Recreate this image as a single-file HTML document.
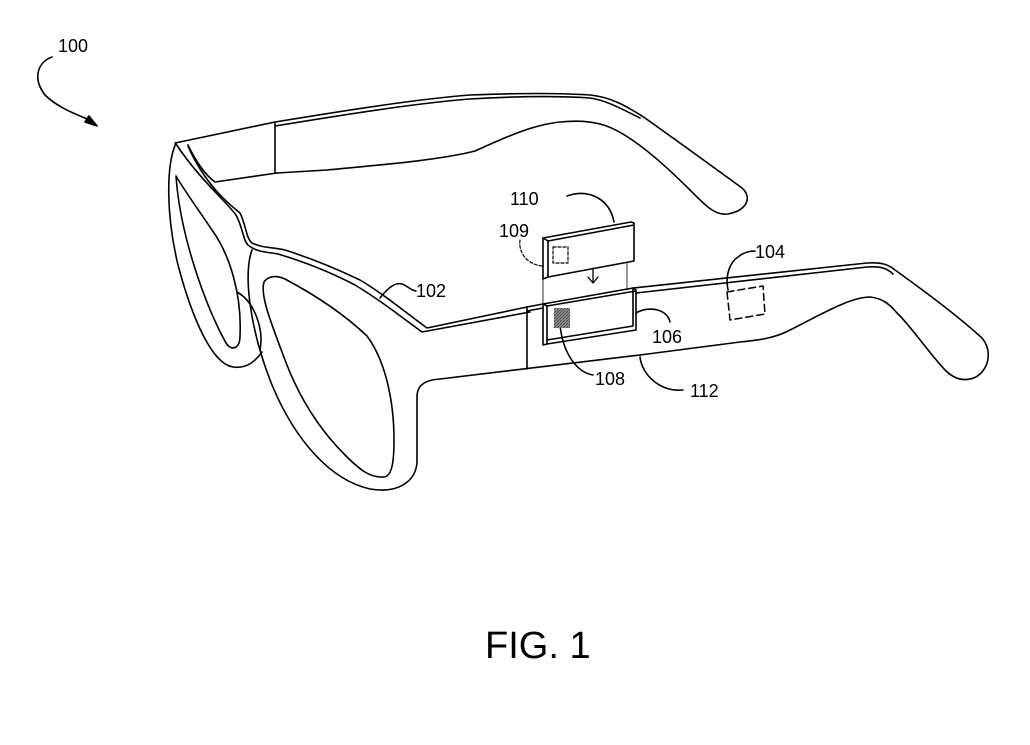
<!DOCTYPE html>
<html><head><meta charset="utf-8"><style>
html,body{margin:0;padding:0;background:#fff}
svg{display:block}
text{font-family:"Liberation Sans",sans-serif;fill:#000}
</style></head><body>
<svg width="1030" height="745" viewBox="0 0 1030 745" xmlns="http://www.w3.org/2000/svg">
<defs>
<pattern id="h" width="3" height="3" patternUnits="userSpaceOnUse">
<rect width="3" height="3" fill="#aaa"/>
<path d="M0,3 L3,0" stroke="#444" stroke-width="1"/>
<path d="M0,0 L3,3" stroke="#666" stroke-width="0.6"/>
</pattern>
</defs>
<g fill="none" stroke="#000" stroke-width="1.6" stroke-linejoin="round" stroke-linecap="round">
<!-- 100 arrow -->
<path d="M52,57 C38,62 32,78 45,95 C58,108 78,115 92,121"/>
<path d="M85,122 L97,126 L89,116 Z" fill="#000"/>
<!-- far temple -->
<path d="M175,143 L275,122 C360,108 420,99 470,95 C520,93 560,93 590,95 C610,97 625,105 645,118 C690,150 720,172 742,188 C752,197 748,210 728,214 C715,216 705,205 690,190 C660,160 625,130 600,124 C585,120 570,121 560,122 C530,125 500,140 475,151 C440,160 380,165 327,170 L277,173"/>
<path d="M275,126 C360,112 420,103 470,99 C520,96 560,96 590,98 C605,100 620,108 640,118"/>
<path d="M275,122 L275,173"/>
<!-- front brow inner edge -->
<path d="M188,145 C195,160 205,175 215,182 L277,173"/>
<path d="M188,146 C205,185 230,205 240,213 C246,225 246,238 252,243 C262,248 272,247 285,250 C310,258 335,268 360,280 C385,295 405,312 427,328 L527,307"/>
<path d="M176,144 C200,180 225,200 236,215 C243,228 243,240 248,245 C256,252 266,252 278,254 C305,262 330,272 355,285 C380,300 400,316 422,332 L530,312"/>
<!-- left lens frame outer -->
<path d="M176,143 C166,165 166,215 178,265 C192,318 212,364 233,367 C248,369 256,360 262,352"/>
<!-- left lens inner -->
<path d="M176,176 C180,235 205,305 226,343 C232,352 240,348 240,336 C242,295 230,255 212,230 C200,212 186,193 176,176 Z"/>
<!-- nose pad -->
<path d="M237,292 C255,302 264,330 260,350"/>
<!-- right frame outer -->
<path d="M252,250 C243,275 250,330 272,385 C295,440 330,480 370,489 C400,494 416,480 417,462 L417,395 C418,385 425,380 440,379 L640,355"/>
<!-- right lens inner -->
<path d="M264,282 C268,276 276,275 285,279 C315,295 345,315 367,336 C385,360 394,400 394,440 C394,462 392,476 384,477 C370,478 360,470 345,455 C320,430 300,400 285,360 C270,320 260,295 264,282 Z"/>
<!-- near temple -->
<path d="M527,307 L543,304 M633,288 L867,263 C880,262 888,264 895,270 C930,295 960,318 982,338 C992,350 990,368 976,377 C965,382 955,380 945,370 C925,348 910,325 897,313 C888,302 880,298 870,297 C850,297 820,315 790,330 C775,338 760,340 740,342 L640,355"/>
<path d="M527,311 L543,308 M636,293 L867,267 C880,266 887,268 893,274"/>
<path d="M527,307 L527,369"/>
<!-- slot module 106 -->
<path d="M543,304 L633,288 L636,290 L636,330 L547,344 L547,306 Z"/>
<path d="M547,306 L636,291"/>
<path d="M633,288 L633,326 L547,340"/>
<path d="M543,304 L543,345 L547,344"/>
<!-- module 110 -->
<path d="M543,238 L631,222 L634,223 L634,261 L548,277 L548,241 Z"/>
<path d="M543,238 L543,279 L548,277"/>
<path d="M548,241 L634,225"/>
<!-- guide lines -->
<path d="M543,279 L543,304 M627,263 L627,290" stroke-width="0.8"/>
<path d="M593,268 L593,282 M588,277 L593,283 L598,277" stroke-width="1.3"/>
<!-- dashed square 109 -->
<rect x="553" y="247" width="15" height="16" stroke-dasharray="3,2" stroke-width="1.2"/>
<!-- 104 dashed box -->
<path d="M727,292 L763,286 L765,314 L730,320 Z" stroke-dasharray="7,4" stroke-width="1.5"/>
<!-- leaders -->
<path d="M380,298 C388,288 395,282 402,284 C408,286 410,290 416,291"/>
<path d="M567,196 C590,188 610,200 614,222"/>
<path d="M542,266 C530,265 518,255 520,240" stroke-dasharray="3,2" stroke-width="1.2"/>
<path d="M560,324 C562,350 575,372 593,375"/>
<path d="M636,313 C650,305 668,310 670,322"/>
<path d="M728,290 C725,275 730,262 738,257 C744,252 750,251 755,251"/>
<path d="M640,357 C642,375 660,392 683,390"/>
</g>
<rect x="554" y="308" width="16" height="20" fill="url(#h)"/>
<g font-size="18">
<text x="58" y="52">100</text>
<text x="510" y="205">110</text>
<text x="499" y="237">109</text>
<text x="416" y="297">102</text>
<text x="595" y="385">108</text>
<text x="652" y="343">106</text>
<text x="755" y="258">104</text>
<text x="690" y="397">112</text>
</g>
<text x="485" y="658" font-size="38">FIG. 1</text>
</svg>
</body></html>
